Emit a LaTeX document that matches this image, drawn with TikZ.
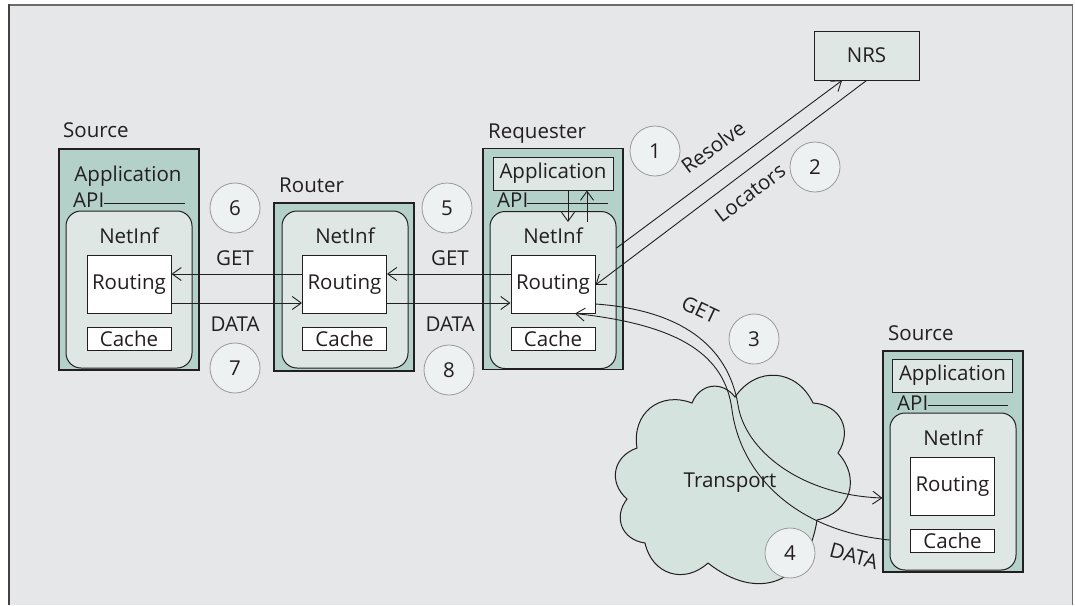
\documentclass[tikz,border=0pt]{standalone}
\usepackage{fontspec}
\setmainfont{Open Sans}
\usetikzlibrary{arrows.meta,calc}

\definecolor{bg}{HTML}{E6E7E8}
\definecolor{hostfill}{HTML}{B3D0C9}
\definecolor{innerfill}{HTML}{DEE7E4}
\definecolor{numfill}{HTML}{EDF1F1}
\definecolor{cloudfill}{HTML}{D5E3DF}
\definecolor{ink}{HTML}{231F20}
\definecolor{numline}{HTML}{9A9A9A}

\begin{document}
\begin{tikzpicture}[x=1pt,y=-1pt,
  font=\fontsize{20.5}{24}\selectfont, text=ink,
  host/.style={draw=ink, line width=1.2pt, fill=hostfill, minimum width=140pt, minimum height=221pt, inner sep=0pt},
  netinf/.style={draw=ink, line width=1pt, fill=innerfill, rounded corners=15pt, minimum width=126pt, minimum height=157pt, inner sep=0pt},
  routing/.style={draw=ink, line width=1pt, fill=white, minimum width=84pt, minimum height=58pt, inner sep=0pt},
  cache/.style={draw=ink, line width=1pt, fill=white, minimum width=84pt, minimum height=23pt, inner sep=0pt},
  appbox/.style={draw=ink, line width=1pt, fill=innerfill, minimum width=120pt, minimum height=33pt, inner sep=0pt},
  nrsbox/.style={draw=ink, line width=1pt, fill=innerfill, minimum width=105pt, minimum height=49pt, inner sep=0pt},
  stepnum/.style={circle, draw=numline, fill=numfill, line width=0.8pt, minimum size=50pt, inner sep=0pt},
  lbl/.style={inner sep=0pt},
  apiline/.style={draw=ink, line width=1pt},
  arr/.style={draw=ink, line width=0.9pt, -{Straight Barb[length=9pt,width=13pt]}},
  puff/.style={bend left=60, looseness=#1}, puff/.default=1.25
]
\useasboundingbox (0,0) rectangle (1075,605);

% panel
\fill[bg] (9,5) rectangle (1072,605);
\draw[draw=gray!85!black, line width=2pt] (8,5) -- (1073,5);
\draw[draw=ink!85, line width=2pt] (9,4) -- (9,605);
\draw[draw=gray!85!black, line width=1pt] (1072,5) -- (1072,605);

% transport cloud
\draw[ink, line width=1pt, fill=cloudfill]
  (692,403) to[puff] (735,397) to[puff] (813,403) to[puff] (838,453)
  to[puff] (817,520) to[puff=1.4] (708,563) to[puff] (645,543)
  to[puff] (627,499) to[puff] (637,448) to[puff] (692,403) -- cycle;
\node[lbl] (transport) at (730,483) {Transport};

% name resolution system
\node[nrsbox] (nrs) at (866.5,55.5) {NRS};

% left source
\node[lbl, anchor=base west] (srcLlabel) at (63,137) {Source};
\node[host] (srcL) at (129,259.5) {};
\node[lbl, anchor=base] (appL) at (128,181) {Application};
\node[lbl, anchor=base west] (apiL) at (73,207) {API};
\draw[apiline] (104,203) -- (185,203);
\node[netinf] (nfL) at (129,289.5) {};
\node[lbl, anchor=base] (nfLtext) at (129,243) {NetInf};
\node[routing] (rtL) at (129,284) {Routing};
\node[cache] (caL) at (129,338.5) {Cache};

% router
\node[lbl, anchor=base west] (routerlabel) at (279,192) {Router};
\node[host, minimum height=168pt] (router) at (344,287) {};
\node[netinf] (nfM) at (345,289.5) {};
\node[lbl, anchor=base] (nfMtext) at (345,243) {NetInf};
\node[routing] (rtM) at (344.5,284) {Routing};
\node[cache] (caM) at (344.5,338.5) {Cache};

% requester
\node[lbl, anchor=base west] (reqlabel) at (488,138) {Requester};
\node[host] (req) at (553,259) {};
\node[appbox] (appQ) at (553,173.5) {Application};
\node[lbl, anchor=base west] (apiQ) at (497,207) {API};
\draw[apiline] (527,203) -- (608,203);
\node[netinf] (nfQ) at (553,290) {};
\node[lbl, anchor=base] (nfQtext) at (553,243) {NetInf};
\node[routing] (rtQ) at (553,284) {Routing};
\node[cache] (caQ) at (553,338.5) {Cache};
\coordinate (apiDown) at (568,222);
\coordinate (apiUp) at (587,222);
\draw[arr] (appQ.south -| apiDown) -- (apiDown);
\draw[arr] (apiUp) -- (appQ.south -| apiUp);

% right source
\node[lbl, anchor=base west] (srcRlabel) at (888,340) {Source};
\node[host] (srcR) at (953,461.5) {};
\node[appbox] (appR) at (952.5,375.5) {Application};
\node[lbl, anchor=base west] (apiR) at (897,410) {API};
\draw[apiline] (928,405) -- (1008,405);
\node[netinf] (nfR) at (953,491.5) {};
\node[lbl, anchor=base] (nfRtext) at (953,445) {NetInf};
\node[routing] (rtR) at (952.5,486) {Routing};
\node[cache] (caR) at (952.5,541) {Cache};

% step markers
\node[stepnum] (s1) at (655,151) {1};
\node[stepnum] (s2) at (815,167) {2};
\node[stepnum] (s3) at (754,339) {3};
\node[stepnum] (s4) at (790,553) {4};
\node[stepnum] (s5) at (447,208) {5};
\node[stepnum] (s6) at (235,208) {6};
\node[stepnum] (s7) at (235,368) {7};
\node[stepnum] (s8) at (449,370) {8};

% hop-by-hop exchange
\draw[arr] ([yshift=10pt]rtM.west) -- ([yshift=10pt]rtL.east);
\draw[arr] ([yshift=-19pt]rtL.east) -- ([yshift=-19pt]rtM.west);
\draw[arr] ([yshift=10pt]rtQ.west) -- ([yshift=10pt]rtM.east);
\draw[arr] ([yshift=-19pt]rtM.east) -- ([yshift=-19pt]rtQ.west);
\node[lbl, anchor=base] (getL) at (235,265) {GET};
\node[lbl, anchor=base] (dataL) at (235,331) {DATA};
\node[lbl, anchor=base] (getM) at (450,265) {GET};
\node[lbl, anchor=base] (dataM) at (450,331) {DATA};

% name resolution
\draw[arr] ([yshift=42pt]nfQ.east) -- ([xshift=-24.5pt]nrs.south);
\draw[arr] (nrs.south) -- ([yshift=-1pt]rtQ.east);
\node[lbl, rotate=36.5] (resolve) at (713,147) {Resolve};
\node[lbl, rotate=37] (locators) at (750,193) {Locators};

% transport exchange
\draw[arr] ([yshift=-20pt]rtQ.east) .. controls (680,310) and (728,345) .. (738,405)
  .. controls (745,450) and (800,495) .. ([yshift=-36.5pt]srcR.west);
\draw[arr] ([yshift=-48.5pt]nfR.west) .. controls (790,530) and (740,470) .. (732,410)
  .. controls (725,355) and (680,325) .. ([xshift=22pt]rtQ.south);
\node[lbl, rotate=-25] (get3) at (700,310) {GET};
\node[lbl, rotate=-15] (data4) at (854,556) {DATA};
\end{tikzpicture}
\end{document}
